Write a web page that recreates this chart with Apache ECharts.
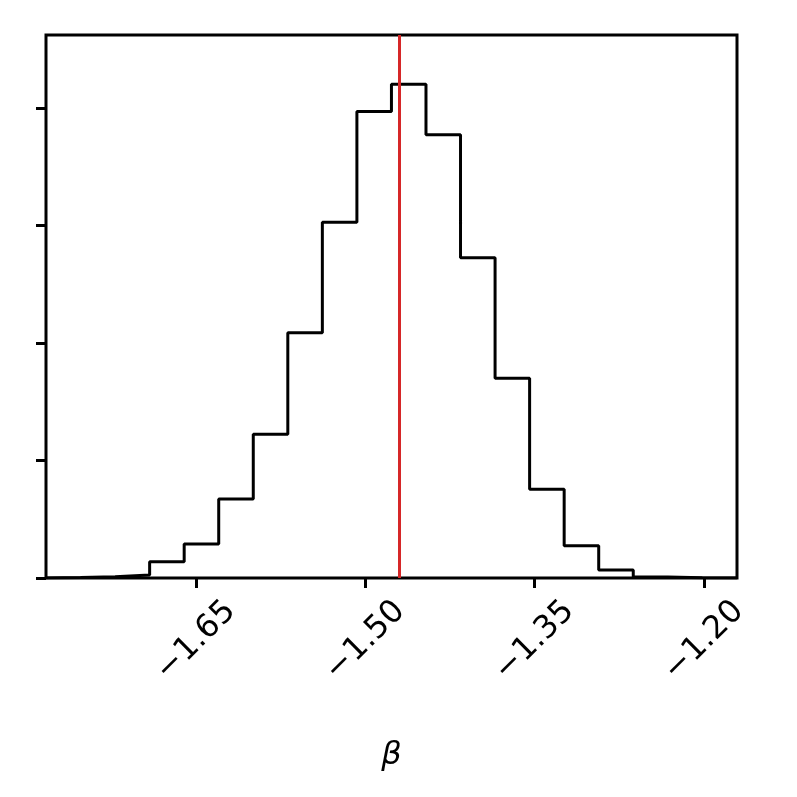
<!DOCTYPE html>
<html>
<head>
<meta charset="utf-8">
<style>
  html, body { margin: 0; padding: 0; background: #fff; }
  #chart { width: 797px; height: 797px; }
</style>
<script src="https://cdn.jsdelivr.net/npm/echarts@6/dist/echarts.min.js"></script>
</head>
<body>
<div id="chart"></div>
<script>
// histogram bin edges (beta)
var binEdges = [-1.7829, -1.7523, -1.7217, -1.6911, -1.6605, -1.6299, -1.5993,
  -1.5687, -1.5381, -1.5075, -1.4769, -1.4463, -1.4157, -1.3851, -1.3545,
  -1.3239, -1.2933, -1.2627, -1.2321, -1.2015, -1.1708]
// counts per bin
var binCounts = [4, 11, 26, 139, 289, 672, 1223, 2088, 3027, 3969, 4202,
  3773, 2726, 1700, 755, 275, 68, 9, 3, 0]
var xTicks = [-1.65, -1.50, -1.35, -1.20]
var yTicks = [0, 1000, 2000, 3000, 4000]
var truthValue = -1.4687
var yMax = 4621

// step outline: start and end at baseline
var stepData = [[binEdges[0], 0]]
for (var i = 0; i < binCounts.length; i++) {
  stepData.push([binEdges[i], binCounts[i]])
}
stepData.push([binEdges[binEdges.length - 1], binCounts[binCounts.length - 1]])
stepData.push([binEdges[binEdges.length - 1], 0])

var chart = echarts.init(document.getElementById('chart'))
chart.setOption({
  animation: false,
  backgroundColor: '#fff',
  grid: {
    left: 46,
    right: 60,
    top: 35,
    bottom: 219,
    show: true,
    borderColor: '#000',
    borderWidth: 3,
    backgroundColor: 'transparent'
  },
  xAxis: {
    type: 'value',
    min: binEdges[0],
    max: binEdges[binEdges.length - 1],
    name: 'β',
    nameLocation: 'middle',
    nameGap: 162,
    nameTextStyle: {
      fontFamily: 'DejaVu Sans',
      fontStyle: 'italic',
      fontSize: 32,
      color: '#000'
    },
    splitLine: { show: false },
    axisLine: { show: false },
    axisTick: {
      show: true,
      length: 10,
      lineStyle: { color: '#000', width: 3 },
      customValues: xTicks
    },
    axisLabel: {
      show: true,
      customValues: xTicks,
      rotate: 45,
      align: 'center',
      verticalAlign: 'middle',
      margin: 63,
      fontFamily: 'DejaVu Sans',
      fontSize: 32,
      color: '#000',
      formatter: function (v) {
        return (v < 0 ? '\u2212' : '') + Math.abs(v).toFixed(2)
      }
    }
  },
  yAxis: {
    type: 'value',
    min: 0,
    max: yMax,
    splitLine: { show: false },
    axisLine: { show: false },
    axisTick: {
      show: true,
      length: 10,
      lineStyle: { color: '#000', width: 3 },
      customValues: yTicks
    },
    axisLabel: { show: false }
  },
  series: [
    {
      type: 'line',
      step: 'end',
      data: stepData,
      showSymbol: false,
      symbol: 'none',
      lineStyle: { color: '#000', width: 3 },
      silent: true,
      markLine: {
        silent: true,
        symbol: 'none',
        label: { show: false },
        lineStyle: { color: '#d62728', width: 3, type: 'solid' },
        data: [{ xAxis: truthValue }]
      }
    }
  ]
})
</script>
</body>
</html>
